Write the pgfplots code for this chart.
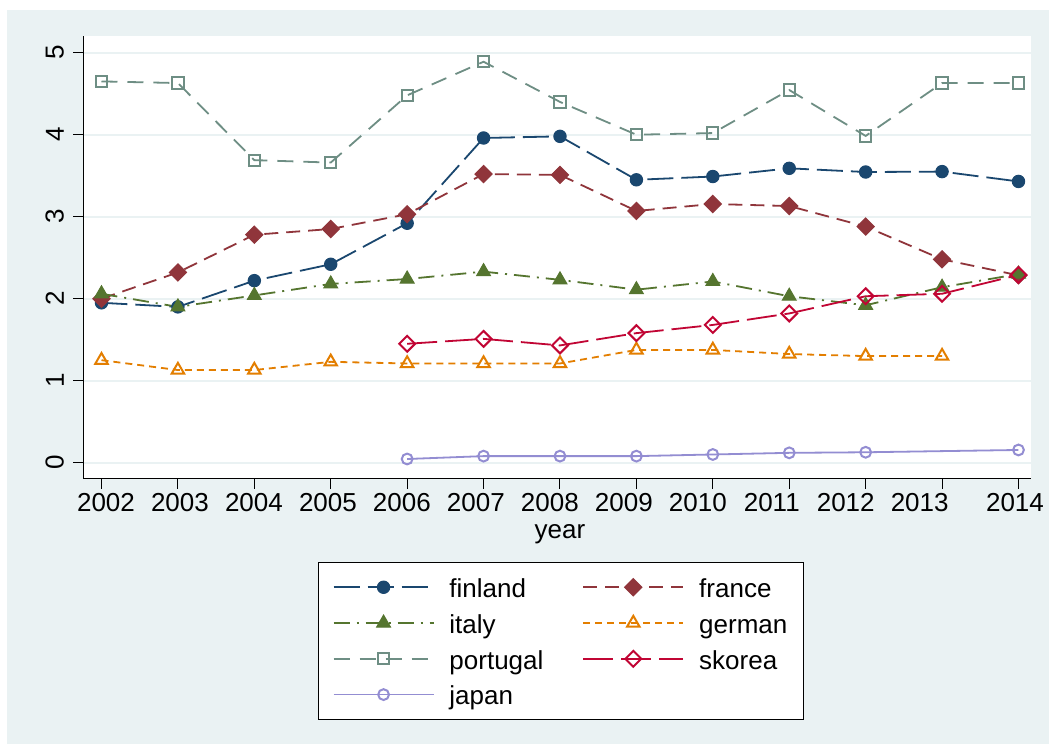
\documentclass[border=0pt]{standalone}
\usepackage{fontspec}
\setmainfont{Liberation Sans}
\usepackage{pgfplots}
\pgfplotsset{compat=1.18}

% Stata s2color palette
\definecolor{stbg}{RGB}{234,242,243}
\definecolor{stnavy}{RGB}{26,71,111}
\definecolor{stmaroon}{RGB}{144,53,59}
\definecolor{stgreen}{RGB}{85,117,47}
\definecolor{storange}{RGB}{227,126,0}
\definecolor{stteal}{RGB}{110,142,132}
\definecolor{stcranberry}{RGB}{193,5,52}
\definecolor{stlavender}{RGB}{147,141,210}

% uniform height for the legend rows
\newcommand{\lstrut}{\rule[-6bp]{0pt}{28bp}}

\begin{document}
\begin{tikzpicture}
\useasboundingbox (0,0) rectangle (1049bp,744bp);
\fill[white] (0,0) rectangle (1049bp,744bp);
\fill[stbg] (7bp,0) rectangle (1049bp,734bp);
\begin{axis}[
  at={(83bp,265bp)}, anchor=south west,
  scale only axis, width=947.7bp, height=443bp,
  xmin=2001.758, xmax=2014.16, ymin=-0.199, ymax=5.204,
  axis background/.style={fill=white},
  axis x line*=bottom, axis y line*=left,
  axis line style={-, line width=1bp, black},
  tick align=outside, major tick length=10bp,
  tick style={black, line width=1bp},
  xtick={2002,2003,...,2014},
  % labels sit on a slightly tighter spacing than the ticks
  xticklabels={\hspace{9bp}2002,\hspace{4.1bp}2003,\hspace{-0.8bp}2004,
    \hspace{-5.6bp}2005,\hspace{-10.5bp}2006,\hspace{-15.4bp}2007,
    \hspace{-20.3bp}2008,\hspace{-25.2bp}2009,\hspace{-30bp}2010,
    \hspace{-34.9bp}2011,\hspace{-39.8bp}2012,\hspace{-44.7bp}2013,
    \hspace{-7bp}2014},
  ytick={0,1,...,5},
  ymajorgrids, grid style={stbg, line width=2bp},
  /pgf/number format/assume math mode=true,
  ticklabel style={font=\fontsize{26bp}{30bp}\selectfont},
  xticklabel style={inner sep=4bp},
  yticklabel style={rotate=90, anchor=south, inner sep=9bp},
  xlabel={year},
  xlabel style={font=\fontsize{26bp}{30bp}\selectfont, inner sep=0bp,
    at={(axis description cs:0.5033,-0.1332)}, anchor=base},
  every axis plot/.append style={line width=1.8bp},
  legend columns=2,
  legend cell align=left,
  legend image code/.code={%
    \draw[line width=1.8bp, mark repeat=2, mark phase=2]
      plot coordinates {(0bp,0bp) (50bp,0bp) (100bp,0bp)};},
  legend style={
    at={(0.5044,-0.1874)}, anchor=north,
    draw=black, line width=1bp, fill=white,
    font=\fontsize{26bp}{30bp}\selectfont,
    inner xsep=14.5bp, inner ysep=11bp,
    row sep=8.3bp,
    /tikz/every odd column/.append style={column sep=13bp},
    /tikz/every even column/.append style={column sep=37bp},
  },
]
% finland
\addplot[stnavy, dash pattern=on 26bp off 8bp,
  mark=*, mark size=6.2bp, mark options={solid, fill=stnavy, line width=1bp}]
  coordinates {(2002,1.95)(2003,1.90)(2004,2.22)(2005,2.42)(2006,2.92)(2007,3.96)
  (2008,3.98)(2009,3.45)(2010,3.49)(2011,3.59)(2012,3.545)(2013,3.55)(2014,3.43)};
\addlegendentry{\lstrut finland}
% france
\addplot[stmaroon, dash pattern=on 14bp off 8bp,
  mark=square*, mark size=6.1bp, mark options={solid, rotate=45, fill=stmaroon, line width=1bp}]
  coordinates {(2002,2.00)(2003,2.32)(2004,2.78)(2005,2.85)(2006,3.03)(2007,3.52)
  (2008,3.51)(2009,3.07)(2010,3.155)(2011,3.13)(2012,2.88)(2013,2.48)(2014,2.285)};
\addlegendentry{\lstrut france}
% italy
\addplot[stgreen, dash pattern=on 16bp off 7bp on 2bp off 7bp,
  mark=triangle*, mark size=8bp, mark options={solid, fill=stgreen, line width=1bp}]
  coordinates {(2002,2.06)(2003,1.90)(2004,2.04)(2005,2.18)(2006,2.24)(2007,2.33)
  (2008,2.23)(2009,2.11)(2010,2.21)(2011,2.03)(2012,1.92)(2013,2.14)(2014,2.30)};
\addlegendentry{\lstrut italy}
% german
\addplot[storange, dash pattern=on 7bp off 5bp,
  mark=triangle, mark size=7.2bp, mark options={solid, line width=2bp}]
  coordinates {(2002,1.25)(2003,1.13)(2004,1.13)(2005,1.23)(2006,1.21)(2007,1.21)
  (2008,1.21)(2009,1.375)(2010,1.375)(2011,1.325)(2012,1.30)(2013,1.30)};
\addlegendentry{\lstrut german}
% portugal
\addplot[stteal, dash pattern=on 16bp off 10bp,
  mark=square, mark size=5.6bp, mark options={solid, line width=2bp}]
  coordinates {(2002,4.65)(2003,4.63)(2004,3.69)(2005,3.66)(2006,4.48)(2007,4.89)
  (2008,4.40)(2009,4.00)(2010,4.02)(2011,4.545)(2012,3.985)(2013,4.63)(2014,4.63)};
\addlegendentry{\lstrut portugal}
% skorea
\addplot[stcranberry, dash pattern=on 30bp off 8bp,
  mark=square, mark size=5.6bp, mark options={solid, rotate=45, line width=2bp}]
  coordinates {(2006,1.45)(2007,1.51)(2008,1.43)(2009,1.58)(2010,1.68)(2011,1.82)
  (2012,2.03)(2013,2.06)(2014,2.29)};
\addlegendentry{\lstrut skorea}
% japan
\addplot[stlavender, solid,
  mark=o, mark size=5.4bp, mark options={solid, line width=2bp}]
  coordinates {(2006,0.045)(2007,0.08)(2008,0.08)(2009,0.08)(2010,0.10)(2011,0.12)
  (2012,0.127)(2014,0.155)};
\addlegendentry{\lstrut japan}
\end{axis}
\end{tikzpicture}
\end{document}
